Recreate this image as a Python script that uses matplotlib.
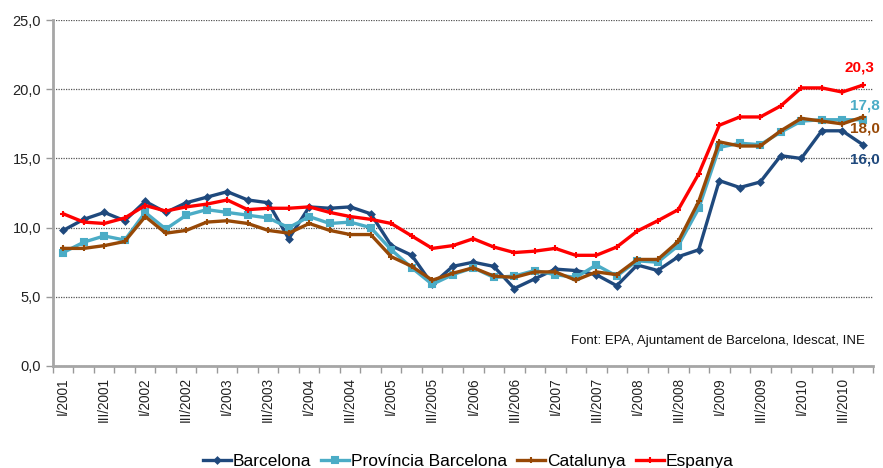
import matplotlib
matplotlib.use("Agg")
import matplotlib.pyplot as plt
import numpy as np

roman = ["I", "II", "III", "IV"]
years = list(range(2001, 2011))
quarters = [f"{r}/{y}" for y in years for r in roman]

barcelona = [9.8, 10.6, 11.1, 10.5, 11.9, 11.1, 11.8, 12.2, 12.6, 12.0,
             11.8, 9.2, 11.5, 11.4, 11.5, 11.0, 8.7, 8.0, 5.9, 7.2,
             7.5, 7.2, 5.6, 6.3, 7.0, 6.9, 6.6, 5.8, 7.3, 6.9,
             7.9, 8.4, 13.4, 12.9, 13.3, 15.2, 15.0, 17.0, 17.0, 16.0]
provincia = [8.2, 8.95, 9.4, 9.1, 11.1, 9.9, 10.9, 11.3, 11.1, 10.9,
             10.7, 10.0, 10.8, 10.3, 10.4, 10.0, 8.4, 7.1, 5.9, 6.6,
             7.1, 6.4, 6.5, 6.9, 6.6, 6.4, 7.3, 6.5, 7.6, 7.5,
             8.7, 11.4, 15.8, 16.1, 16.0, 16.9, 17.7, 17.8, 17.8, 17.8]
catalunya = [8.5, 8.5, 8.7, 9.0, 10.8, 9.6, 9.8, 10.4, 10.5, 10.3,
             9.8, 9.6, 10.3, 9.8, 9.5, 9.5, 7.9, 7.2, 6.2, 6.7,
             7.1, 6.5, 6.4, 6.8, 6.8, 6.2, 6.8, 6.6, 7.7, 7.7,
             9.0, 11.9, 16.2, 15.9, 15.9, 17.0, 17.9, 17.7, 17.5, 18.0]
espanya = [11.0, 10.4, 10.3, 10.7, 11.6, 11.2, 11.5, 11.7, 12.0, 11.3,
           11.4, 11.4, 11.5, 11.1, 10.8, 10.6, 10.3, 9.4, 8.5, 8.7,
           9.2, 8.6, 8.2, 8.3, 8.5, 8.0, 8.0, 8.6, 9.75, 10.5,
           11.3, 13.9, 17.4, 18.0, 18.0, 18.8, 20.1, 20.1, 19.8, 20.3]

series_names = ["Barcelona", "Província Barcelona", "Catalunya", "Espanya"]
end_labels = ["16,0", "17,8", "18,0", "20,3"]
source = "Font: EPA, Ajuntament de Barcelona, Idescat, INE"
yticks = [0, 5, 10, 15, 20, 25]

colors = ["#1F497D", "#4BACC6", "#974806", "#FF0000"]
markers = ["D", "s", "+", "+"]
msizes = [3, 5, 5, 4]

plt.rcParams['font.family'] = ['Liberation Sans', 'DejaVu Sans']

fig = plt.figure(figsize=(8.83, 4.68), dpi=100)
ax = fig.add_axes([0.060, 0.218, 0.9287, 0.739])

x = np.arange(len(quarters))
data = [barcelona, provincia, catalunya, espanya]
handles = []
for vals, name, c, m, ms in zip(data, series_names, colors, markers, msizes):
    h, = ax.plot(x, vals, color=c, lw=2.4, marker=m, ms=ms, mew=1.5,
                 mec=c, mfc=c, label=name, zorder=3, clip_on=False)
    handles.append(h)

ax.set_xlim(-0.5, len(quarters) - 0.5)
ax.set_ylim(0, 25)
ax.set_yticks(yticks)
ax.set_yticklabels([f"{v:.1f}".replace(".", ",") for v in yticks],
                   fontsize=10.5, color="#222222")
ax.yaxis.grid(True, linestyle=(0, (1, 1)), color="#555555", lw=0.9)
ax.set_axisbelow(True)

ax.set_xticks(x[::2])
ax.set_xticklabels(quarters[::2], rotation=90, fontsize=9.8, color="#222222")
ax.tick_params(axis='x', which='major', length=0, pad=8)
ax.set_xticks(np.arange(-0.5, len(quarters)), minor=True)
ax.tick_params(axis='x', which='minor', length=5, color="#999999", width=1)
ax.tick_params(axis='y', length=5, color="#999999", width=1)

for s in ["top", "right"]:
    ax.spines[s].set_visible(False)
for s in ["left", "bottom"]:
    ax.spines[s].set_color("#a6a6a6")
    ax.spines[s].set_linewidth(2)

# end labels
offsets = [(12.5, -11), (12.5, 10.5), (12.5, -8), (8, 13)]
aligns = ["right", "right", "right", "right"]
for vals, lab, c, off, ha in zip(data, end_labels, colors, offsets, aligns):
    ax.annotate(lab, (x[-1], vals[-1]), xytext=off, textcoords="offset points",
                ha=ha, va="center", color=c, fontsize=11,
                fontweight="bold", annotation_clip=False)

ax.text(0.99, 0.055, source, transform=ax.transAxes, ha="right", va="bottom",
        fontsize=9.5, color="#111111")

fig.legend(handles=handles, loc="lower center", bbox_to_anchor=(0.53, -0.035),
           ncol=4, frameon=False, handlelength=1.6,
           handletextpad=0.1, columnspacing=0.6,
           prop={'family': ['Liberation Sans Narrow', 'Liberation Sans'], 'size': 12.5})

fig.savefig("out.png", dpi=100)
